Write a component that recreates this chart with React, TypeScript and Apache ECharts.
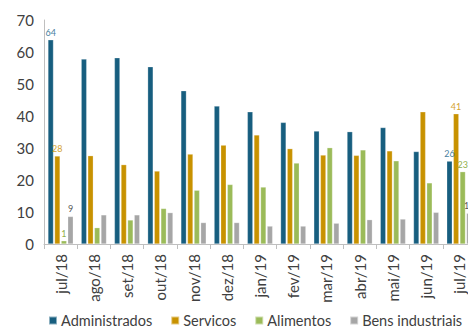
import React, { useEffect, useRef } from "react";
import * as echarts from "echarts";

const categories = ["jul/18", "ago/18", "set/18", "out/18", "nov/18", "dez/18", "jan/19", "fev/19", "mar/19", "abr/19", "mai/19", "jun/19", "jul/19"];
const administrados = [63.8, 57.8, 58.2, 55.4, 47.9, 43.1, 41.3, 38.0, 35.3, 35.1, 36.4, 28.9, 25.9];
const servicos = [27.5, 27.6, 24.8, 22.8, 28.1, 30.9, 34.1, 29.8, 27.8, 27.7, 29.1, 41.3, 40.7];
const alimentos = [1.0, 5.1, 7.5, 11.1, 16.8, 18.6, 17.8, 25.3, 30.1, 29.4, 26.0, 19.1, 22.6];
const bensIndustriais = [8.6, 9.1, 9.1, 9.8, 6.7, 6.7, 5.6, 5.6, 6.5, 7.6, 7.8, 9.9, 9.6];
const yTicks = [0, 10, 20, 30, 40, 50, 60, 70];

const FONT = "Lato, 'Noto Sans', sans-serif";

function withEndLabels(values: number[], color: string) {
  const last = values.length - 1;
  return values.map((v, i) =>
    i === 0 || i === last
      ? {
          value: v,
          label: {
            show: true,
            position: "top",
            distance: 3,
            fontSize: 9,
            fontFamily: FONT,
            color,
            formatter: (p: any) => String(Math.round(p.value)),
          },
        }
      : v
  );
}

export default function App() {
  const ref = useRef<HTMLDivElement>(null);
  useEffect(() => {
    if (!ref.current) return;
    const chart = echarts.init(ref.current, undefined, { renderer: "svg" });
    const mk = (name: string, data: number[], color: string, labelColor: string) => ({
      name,
      type: "bar",
      barWidth: 5.5,
      barGap: "20%",
      data: withEndLabels(data, labelColor),
      itemStyle: { color, borderColor: "rgba(255,255,255,0.5)", borderWidth: 0.5 },
    });
    chart.setOption({
      animation: false,
      backgroundColor: "#ffffff",
      grid: { left: 44, top: 20, right: 0, bottom: 84, containLabel: false },
      legend: {
        top: 313,
        left: 48,
        width: 440,
        padding: 0,
        icon: "rect",
        itemWidth: 8,
        itemHeight: 8,
        itemGap: 18,
        textStyle: { fontSize: 14.5, color: "#404040", fontFamily: FONT, padding: [0, 0, 0, -1] },
        data: ["Administrados", "Servicos", "Alimentos", "Bens industriais"],
      },
      xAxis: {
        type: "category",
        data: categories,
        boundaryGap: true,
        axisLine: { show: true, lineStyle: { color: "#bfbfbf", width: 1 } },
        axisTick: { show: true, length: 5, lineStyle: { color: "#bfbfbf" } },
        axisLabel: { rotate: 90, fontSize: 15, color: "#404040", fontFamily: FONT, margin: 10, interval: 0 },
      },
      yAxis: {
        type: "value",
        min: yTicks[0],
        max: yTicks[yTicks.length - 1],
        interval: 10,
        splitLine: { show: false },
        axisLine: { show: true, lineStyle: { color: "#bfbfbf", width: 1 } },
        axisTick: { show: false },
        axisLabel: { fontSize: 15, color: "#404040", fontFamily: FONT, margin: 10 },
      },
      series: [
        mk("Administrados", administrados, "#175e7f", "#4a7fa0"),
        mk("Servicos", servicos, "#c89200", "#d4a330"),
        mk("Alimentos", alimentos, "#9bbb59", "#8fb04a"),
        mk("Bens industriais", bensIndustriais, "#a6a6a6", "#595959"),
      ],
    });
    return () => chart.dispose();
  }, []);
  return (
    <div style={{ position: "absolute", left: 0, top: 0, width: 468, height: 328, overflow: "hidden" }}>
      <div ref={ref} style={{ width: 476, height: 328 }} />
    </div>
  );
}
